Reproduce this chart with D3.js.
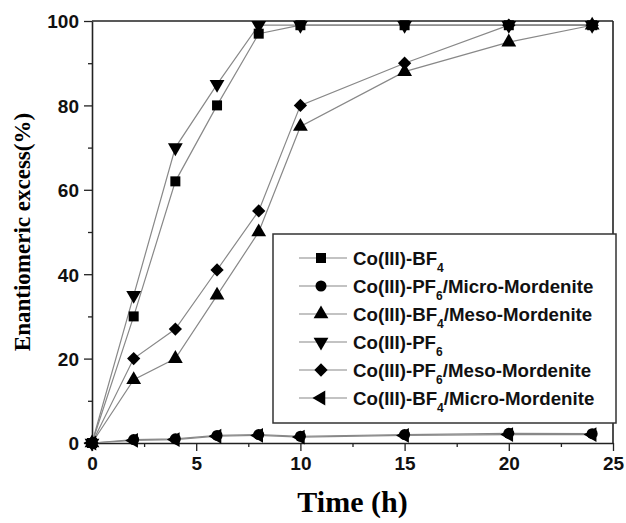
<!DOCTYPE html>
<html>
<head>
<meta charset="utf-8">
<script src="https://cdn.jsdelivr.net/npm/d3@7"></script>
<style>
  body { margin: 0; background: #fff; }
  svg { display: block; }
</style>
</head>
<body>
<div id="chart"></div>
<script>
// reading times (h)
const times = [0, 2, 4, 6, 8, 10, 15, 20, 24];

// enantiomeric excess (%) per catalyst
const bf4 = [0, 30, 62, 80, 97, 99, 99, 99, 99];
const pf6MicroMord = [0, 0.8, 1.0, 1.8, 2.0, 1.6, 2.0, 2.3, 2.2];
const bf4MesoMord = [0, 15, 20, 35, 50, 75, 88, 95, 99];
const pf6 = [0, 35, 70, 85, 99, 99, 99, 99, 99];
const pf6MesoMord = [0, 20, 27, 41, 55, 80, 90, 99, 99];
const bf4MicroMord = [0, 0.6, 0.8, 1.6, 1.8, 1.4, 1.8, 2.0, 2.0];

// legend labels: [main, subscript, rest]
const labels = [
  ["Co(III)-BF", "4", ""],
  ["Co(III)-PF", "6", "/Micro-Mordenite"],
  ["Co(III)-BF", "4", "/Meso-Mordenite"],
  ["Co(III)-PF", "6", ""],
  ["Co(III)-PF", "6", "/Meso-Mordenite"],
  ["Co(III)-BF", "4", "/Micro-Mordenite"]
];
const symbols = ["square", "circle", "up", "down", "diamond", "left"];
const seriesValues = [bf4, pf6MicroMord, bf4MesoMord, pf6, pf6MesoMord, bf4MicroMord];

const xTicks = [0, 5, 10, 15, 20, 25];
const yTicks = [0, 20, 40, 60, 80, 100];

const width = 626, height = 523;
const margin = {top: 21, right: 13, bottom: 80, left: 92};
const w = width - margin.left - margin.right;
const h = height - margin.top - margin.bottom;

const svg = d3.select("#chart").append("svg")
  .attr("width", width)
  .attr("height", height);

const g = svg.append("g")
  .attr("transform", `translate(${margin.left},${margin.top})`);

const x = d3.scaleLinear().domain([0, 25]).range([0, w]);
const y = d3.scaleLinear().domain([0, 100]).range([h, 0]);

const tickFont = "'Liberation Sans', Arial, sans-serif";

// minor ticks first
g.append("g")
  .attr("transform", `translate(0,${h})`)
  .call(d3.axisBottom(x).tickValues(d3.range(2.5, 25, 5)).tickSize(4).tickFormat(""))
  .call(s => s.select(".domain").remove())
  .selectAll("line").attr("stroke", "#222").attr("stroke-width", 1.3);

g.append("g")
  .call(d3.axisLeft(y).tickValues(d3.range(10, 100, 20)).tickSize(4).tickFormat(""))
  .call(s => s.select(".domain").remove())
  .selectAll("line").attr("stroke", "#222").attr("stroke-width", 1.3);

// major axes
const xAxis = g.append("g")
  .attr("transform", `translate(0,${h})`)
  .call(d3.axisBottom(x).tickValues(xTicks).tickSize(8).tickSizeOuter(0).tickPadding(6));

const yAxis = g.append("g")
  .call(d3.axisLeft(y).tickValues(yTicks).tickSize(8).tickSizeOuter(0).tickPadding(5));

[xAxis, yAxis].forEach(a => {
  a.select(".domain").attr("stroke", "#222").attr("stroke-width", 1.6);
  a.selectAll(".tick line").attr("stroke", "#222").attr("stroke-width", 1.3);
  a.selectAll(".tick text")
    .attr("fill", "#111")
    .style("font-family", tickFont)
    .style("font-weight", "bold")
    .style("font-size", "19px");
});
yAxis.selectAll(".tick text").attr("dy", "0.36em");

// top and right frame
g.append("line").attr("x1", 0).attr("x2", w).attr("y1", 0).attr("y2", 0)
  .attr("stroke", "#222").attr("stroke-width", 1.6);
g.append("line").attr("x1", w).attr("x2", w).attr("y1", 0).attr("y2", h)
  .attr("stroke", "#222").attr("stroke-width", 1.6);

// marker shapes
function marker(sel, type) {
  if (type === "circle") {
    sel.append("circle").attr("r", 5.5).attr("fill", "#000");
  } else if (type === "square") {
    sel.append("path").attr("d", d3.symbol(d3.symbolSquare, 100)()).attr("fill", "#000");
  } else if (type === "diamond") {
    sel.append("path").attr("d", d3.symbol(d3.symbolSquare, 88)())
      .attr("transform", "rotate(45)").attr("fill", "#000");
  } else {
    const rot = {up: 0, down: 180, left: -90}[type];
    sel.append("path").attr("d", d3.symbol(d3.symbolTriangle, 95)())
      .attr("transform", `rotate(${rot})`).attr("fill", "#000");
  }
}

const line = d3.line()
  .x((d, i) => x(times[i]))
  .y(d => y(d));

seriesValues.forEach((vals, k) => {
  g.append("path")
    .datum(vals)
    .attr("fill", "none")
    .attr("stroke", "#888")
    .attr("stroke-width", 1.2)
    .attr("d", line);
});

seriesValues.forEach((vals, k) => {
  g.append("g")
    .selectAll("g")
    .data(vals)
    .enter()
    .append("g")
    .attr("transform", (d, i) => `translate(${x(times[i])},${y(d)})`)
    .each(function() { marker(d3.select(this), symbols[k]); });
});

// legend
const legend = svg.append("g").attr("transform", "translate(273,234)");
legend.append("rect")
  .attr("width", 343).attr("height", 189)
  .attr("fill", "#fff").attr("stroke", "#333").attr("stroke-width", 1.5);

labels.forEach((lab, i) => {
  const row = legend.append("g").attr("transform", `translate(0,${24 + i * 28})`);
  row.append("line").attr("x1", 26).attr("x2", 74)
    .attr("stroke", "#888").attr("stroke-width", 1.2);
  marker(row.append("g").attr("transform", "translate(48,0)"), symbols[i]);
  const t = row.append("text")
    .attr("x", 80).attr("dy", "0.36em")
    .attr("fill", "#111")
    .style("font-family", tickFont)
    .style("font-weight", "bold")
    .style("font-size", "18.7px");
  t.append("tspan").text(lab[0]);
  t.append("tspan").text(lab[1]).attr("dy", 7).style("font-size", "12px");
  if (lab[2]) t.append("tspan").text(lab[2]).attr("dy", -7);
});

// axis titles
svg.append("text")
  .attr("x", margin.left + w / 2).attr("y", 512)
  .attr("text-anchor", "middle")
  .style("font-family", "'Liberation Serif', 'Times New Roman', serif")
  .style("font-weight", "bold")
  .style("font-size", "30px")
  .text("Time (h)");

svg.append("text")
  .attr("transform", `translate(30,${margin.top + h / 2}) rotate(-90)`)
  .attr("text-anchor", "middle")
  .style("font-family", "'Liberation Serif', 'Times New Roman', serif")
  .style("font-weight", "bold")
  .style("font-size", "23px")
  .text("Enantiomeric excess(%)");
</script>
</body>
</html>
